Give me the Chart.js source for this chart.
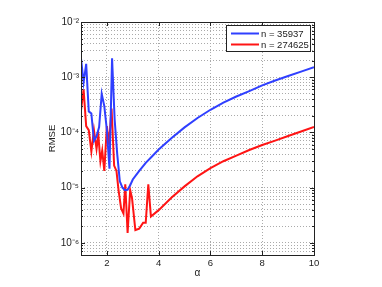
<!DOCTYPE html>
<html><head><meta charset="utf-8">
<script src="https://cdn.jsdelivr.net/npm/chart.js@4"></script>
<style>html,body{margin:0;padding:0;background:#fff}canvas{display:block}</style>
</head><body>
<canvas id="c" width="382" height="287"></canvas>
<script>
const blueAlpha = [1.0,1.1,1.2,1.3,1.4,1.5,1.6,1.7,1.8,1.9,2.0,2.1,2.2,2.3,2.4,2.5,2.6,2.7,2.8,2.9,3.0,3.25,3.5,3.75,4.0,4.5,5.0,5.5,6.0,6.5,7.0,7.5,8.0,8.5,9.0,9.5,10];
const blueRMSE = [2.2e-3,8e-4,1.75e-3,2.4e-4,2.2e-4,7e-5,8.5e-5,1.25e-4,5e-4,3e-4,1.1e-4,2.2e-5,2.2e-3,1.7e-4,4e-5,1.3e-5,1e-5,9e-6,9.1e-6,1.1e-5,1.4e-5,2e-5,2.8e-5,3.7e-5,4.9e-5,7.9e-5,1.23e-4,1.82e-4,2.57e-4,3.47e-4,4.47e-4,5.6e-4,7.1e-4,8.7e-4,1.05e-3,1.26e-3,1.51e-3];
const redAlpha = [1.0,1.1,1.2,1.3,1.4,1.5,1.6,1.67,1.75,1.82,1.9,2.0,2.08,2.18,2.28,2.37,2.45,2.55,2.64,2.71,2.8,2.9,2.97,3.1,3.25,3.4,3.5,3.6,3.7,4.0,4.5,5.0,5.5,6.0,6.5,7.0,7.5,8.0,8.5,9.0,9.5,10];
const redRMSE = [2.5e-4,6e-4,1.3e-4,1.1e-4,4.5e-5,1.1e-4,5e-5,9e-5,3e-5,4.7e-5,2e-5,1.3e-4,6e-5,2.7e-4,2.5e-5,2e-5,9e-6,4.2e-6,3.4e-6,1.15e-5,1.5e-6,9e-6,6.5e-6,1.7e-6,1.8e-6,2.3e-6,2.3e-6,1.15e-5,3e-6,3.9e-6,6.6e-6,1.05e-5,1.6e-5,2.25e-5,3e-5,3.8e-5,4.8e-5,5.9e-5,7.1e-5,8.6e-5,1.04e-4,1.25e-4];
const seriesLabels = ['n = 35937','n = 274625'];
const seriesColors = ['#2f3fff','#ff1414'];
const xTicks = [2,4,6,8,10];
const yMajorTicks = [1e-6,1e-5,1e-4,1e-3,1e-2];
const yTickLabels = ['10\u207B\u2076','10\u207B\u2075','10\u207B\u2074','10\u207B\u00B3','10\u207B\u00B2'];
const yMinorMultipliers = [2,3,4,5,6,7,8,9];
const FONT = '"Liberation Sans", Arial, Helvetica, sans-serif';

function yAllTicks(min, max){
  const out = [];
  for (let d = -7; d <= -2; d++){
    const base = Math.pow(10, d);
    const maj = yMajorTicks.find(v => Math.abs(Math.log10(v) - d) < 1e-9);
    if (maj !== undefined && maj >= min && maj <= max) out.push(maj);
    for (const m of yMinorMultipliers){
      const v = m * base;
      if (v >= min * 0.999 && v <= max * 1.001) out.push(v);
    }
  }
  return out.sort((a,b)=>a-b);
}

const frameAndLegend = {
  id: 'frameAndLegend',
  afterDraw(chart){
    const {ctx, chartArea: a, scales} = chart;
    ctx.save();
    ctx.strokeStyle = '#222';
    ctx.lineWidth = 1;
    ctx.beginPath();
    for (const v of xTicks){
      const x = Math.round(scales.x.getPixelForValue(v)) + 0.5;
      ctx.moveTo(x, a.bottom); ctx.lineTo(x, a.bottom - 4);
      ctx.moveTo(x, a.top); ctx.lineTo(x, a.top + 4);
    }
    for (const v of yAllTicks(6e-7, 1e-2)){
      const y = Math.round(scales.y.getPixelForValue(v)) + 0.5;
      const len = yMajorTicks.includes(v) ? 4 : 2;
      ctx.moveTo(a.left, y); ctx.lineTo(a.left + len, y);
      ctx.moveTo(a.right, y); ctx.lineTo(a.right - len, y);
    }
    ctx.stroke();
    ctx.strokeRect(Math.round(a.left)+0.5, Math.round(a.top)+0.5, Math.round(a.right-a.left), Math.round(a.bottom-a.top));
    const bx = 226.5, by = 25.5, bw = 84, bh = 26;
    ctx.fillStyle = '#fff';
    ctx.fillRect(bx, by, bw, bh);
    ctx.strokeStyle = '#222';
    ctx.strokeRect(bx, by, bw, bh);
    chart.data.datasets.forEach((ds, i) => {
      const y = 33.5 + i * 11;
      ctx.strokeStyle = ds.borderColor;
      ctx.lineWidth = 2;
      ctx.beginPath(); ctx.moveTo(231, y); ctx.lineTo(259, y); ctx.stroke();
      ctx.fillStyle = '#222';
      ctx.font = '9.5px ' + FONT;
      ctx.textBaseline = 'middle';
      ctx.textAlign = 'left';
      ctx.fillText(ds.label, 261, y + 0.5);
    });
    ctx.restore();
  }
};

new Chart(document.getElementById('c'), {
  type: 'line',
  data: {
    datasets: [
      { label: seriesLabels[0], data: blueAlpha.map((a,i)=>({x:a, y:blueRMSE[i]})), borderColor: seriesColors[0], borderWidth: 2, pointRadius: 0, tension: 0, fill: false },
      { label: seriesLabels[1], data: redAlpha.map((a,i)=>({x:a, y:redRMSE[i]})), borderColor: seriesColors[1], borderWidth: 2, pointRadius: 0, tension: 0, fill: false }
    ]
  },
  options: {
    responsive: false,
    animation: false,
    devicePixelRatio: 1,
    layout: { padding: { top: 22, right: 68, left: 0, bottom: 0 } },
    plugins: { legend: { display: false }, tooltip: { enabled: false } },
    scales: {
      x: {
        type: 'linear', min: 1, max: 10,
        afterBuildTicks(s){ s.ticks = xTicks.map(v => ({value: v})); },
        afterFit(s){ s.height = 32; },
        ticks: { font: { size: 9.5, family: FONT }, color: '#222', padding: 3, autoSkip: false, maxRotation: 0 },
        grid: { color: '#aaaaaa', drawTicks: false, lineWidth: 1 },
        border: { display: false, dash: [1, 2] },
        title: { display: true, text: '\u03B1', font: { size: 10, family: FONT }, color: '#222', padding: { top: 0, bottom: 8 } }
      },
      y: {
        type: 'logarithmic', min: 6e-7, max: 1e-2,
        afterBuildTicks(s){ s.ticks = yAllTicks(6e-7, 1e-2).map(v => ({value: v})); },
        afterFit(s){ s.width = 81; },
        ticks: {
          font: { size: 10, family: FONT }, color: '#222', padding: 2, autoSkip: false,
          callback(v){ const i = yMajorTicks.indexOf(v); return i >= 0 ? yTickLabels[i] : ''; }
        },
        grid: { color: '#aaaaaa', drawTicks: false, lineWidth: 1 },
        border: { display: false, dash: [1, 2] },
        title: { display: true, text: 'RMSE', font: { size: 9.5, family: FONT }, color: '#222', padding: { top: 47, bottom: 0 } }
      }
    }
  },
  plugins: [frameAndLegend]
});
</script>
</body></html>
